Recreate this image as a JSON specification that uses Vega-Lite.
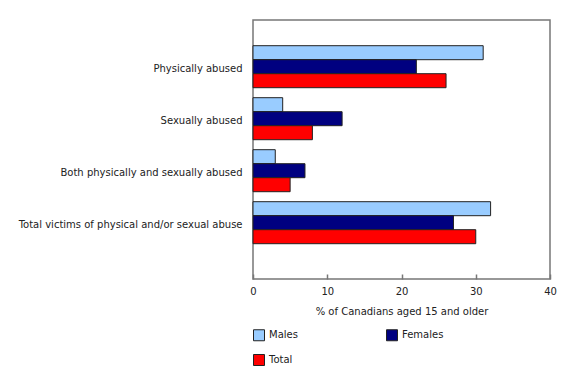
{
  "$schema": "https://vega.github.io/schema/vega-lite/v6.json",
  "width": 297,
  "height": 259,
  "autosize": {"type": "none"},
  "padding": {"left": 253, "top": 20, "right": 30, "bottom": 91},
  "background": "white",
  "config": {
    "view": {"stroke": "#777777", "strokeWidth": 1.5},
    "font": "DejaVu Sans",
    "axis": {"labelFont": "DejaVu Sans", "titleFont": "DejaVu Sans", "labelColor": "#222222", "titleColor": "#222222", "labelFontSize": 10, "titleFontSize": 10, "titleFontWeight": "normal"},
    "legend": {"labelFont": "DejaVu Sans", "labelFontSize": 10, "labelColor": "#222222"}
  },
  "data": {
    "values": [
      {"category": "Physically abused", "sex": "Males", "value": 31},
      {"category": "Physically abused", "sex": "Females", "value": 22},
      {"category": "Physically abused", "sex": "Total", "value": 26},
      {"category": "Sexually abused", "sex": "Males", "value": 4},
      {"category": "Sexually abused", "sex": "Females", "value": 12},
      {"category": "Sexually abused", "sex": "Total", "value": 8},
      {"category": "Both physically and sexually abused", "sex": "Males", "value": 3},
      {"category": "Both physically and sexually abused", "sex": "Females", "value": 7},
      {"category": "Both physically and sexually abused", "sex": "Total", "value": 5},
      {"category": "Total victims of physical and/or sexual abuse", "sex": "Males", "value": 32},
      {"category": "Total victims of physical and/or sexual abuse", "sex": "Females", "value": 27},
      {"category": "Total victims of physical and/or sexual abuse", "sex": "Total", "value": 30}
    ]
  },
  "mark": {"type": "bar", "stroke": "#222222", "strokeWidth": 1},
  "encoding": {
    "y": {
      "field": "category",
      "type": "nominal",
      "sort": null,
      "scale": {"range": [20.7, 228.7], "paddingInner": 0.192, "paddingOuter": 0.096},
      "axis": {"title": null, "ticks": false, "domain": false, "labelPadding": 11, "labelLimit": 400, "labelOffset": 2}
    },
    "yOffset": {
      "field": "sex",
      "type": "nominal",
      "sort": ["Males", "Females", "Total"],
      "scale": {"paddingInner": 0, "paddingOuter": 0}
    },
    "x": {
      "field": "value",
      "type": "quantitative",
      "scale": {"domain": [0, 40], "nice": false},
      "axis": {
        "title": "% of Canadians aged 15 and older",
        "values": [0, 10, 20, 30, 40],
        "grid": false,
        "domain": false,
        "labelFlush": false,
        "tickColor": "#777777",
        "tickWidth": 1.5,
        "tickSize": -5,
        "labelPadding": 12,
        "titlePadding": 10
      }
    },
    "color": {
      "field": "sex",
      "type": "nominal",
      "sort": ["Males", "Females", "Total"],
      "scale": {"domain": ["Males", "Females", "Total"], "range": ["#99CCFF", "#000080", "#FF0000"]},
      "legend": {
        "title": null,
        "orient": "none",
        "legendX": 0,
        "legendY": 309,
        "direction": "horizontal",
        "columns": 2,
        "columnPadding": 86,
        "rowPadding": 9,
        "symbolType": "square",
        "symbolSize": 121,
        "symbolStrokeColor": "#222222",
        "symbolStrokeWidth": 1,
        "labelOffset": 4
      }
    }
  }
}
